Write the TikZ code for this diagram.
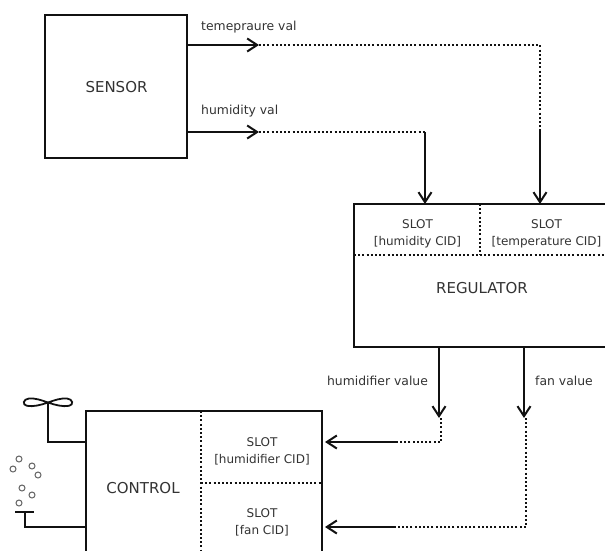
\documentclass[tikz,border=0pt]{standalone}
\usepackage{fontspec}
\setmainfont{DejaVu Sans}
\usetikzlibrary{arrows.meta,calc}
\definecolor{INK}{HTML}{111111}
\definecolor{TXT}{HTML}{333333}
\begin{document}
\begin{tikzpicture}[x=1pt,y=-1pt]
\tikzset{blockbox/.style={draw=INK,line width=2pt,fill=white,inner sep=0pt,outer sep=0pt,anchor=north west},
 lbl/.style={text=TXT,font=\fontsize{12}{17}\selectfont,inner sep=0pt,align=center},
 flowlbl/.style={text=TXT,font=\fontsize{12.4}{17}\selectfont,inner sep=0pt},
 biglbl/.style={text=TXT,font=\fontsize{15}{17}\selectfont,inner sep=0pt},
 flow/.style={-{Straight Barb[length=10pt,width=13pt,line width=2pt]},line width=2pt,INK},
 wire/.style={line width=2pt,INK},
 dots/.style={line width=2pt,INK,dash pattern=on 2pt off 2.2pt},
 bubble/.style={circle,draw=INK!65,line width=1pt,minimum size=6pt,inner sep=0pt}}
\useasboundingbox (0,0) rectangle (605,551);
\clip (0,0) rectangle (605,551);
% blocks
\node[blockbox,minimum width=142pt,minimum height=143pt] (sensor) at (45,15) {};
\node[blockbox,minimum width=252pt,minimum height=143pt] (regulator) at (354,204) {};
\node[blockbox,minimum width=236pt,minimum height=144pt] (control) at (86,411) {};
\node[biglbl] (sensortxt) at (116.5,87) {SENSOR};
\node[biglbl] (regulatortxt) at (482,288) {REGULATOR};
\node[biglbl] (controltxt) at (143,488) {CONTROL};
% slots
\node[lbl] (slothumidity) at (417.5,233.5) {SLOT\\{}[humidity CID]};
\node[lbl] (slottemp) at (546.5,233.5) {SLOT\\{}[temperature CID]};
\node[lbl] (slothumidifier) at (262,451.5) {SLOT\\{}[humidifier CID]};
\node[lbl] (slotfan) at (262,522.5) {SLOT\\{}[fan CID]};
\coordinate (regsplit) at (480,204);
\coordinate (regmid) at (354,255);
\coordinate (conmid) at (201,483);
\draw[dots] (regsplit) -- (regsplit |- regmid);
\draw[dots] (regmid) -- (regmid -| regulator.east);
\draw[dots] (control.north -| conmid) -- (control.south -| conmid);
\draw[dots] (conmid) -- (conmid -| control.east);
% sensor outputs
\coordinate (tempout) at (187,45);
\coordinate (tempmid) at (259,45);
\coordinate (tempcorner) at (540,45);
\coordinate (tempdrop) at (540,131);
\coordinate (humout) at (187,132);
\coordinate (hummid) at (259,132);
\coordinate (humdrop) at (425,132);
\draw[flow] (tempout) -- (tempmid);
\draw[dots] (tempmid) -- (tempcorner) -- (tempdrop);
\draw[flow] (tempdrop) -- (tempdrop |- regulator.north);
\draw[flow] (humout) -- (hummid);
\draw[dots] (hummid) -- (humdrop);
\draw[flow] (humdrop) -- (humdrop |- regulator.north);
\node[flowlbl,anchor=west] (templbl) at (201,27) {temepraure val};
\node[flowlbl,anchor=west] (humlbl) at (201,111) {humidity val};
% regulator outputs
\coordinate (hvstart) at (439,347);
\coordinate (hvend) at (439,418);
\coordinate (hvcorner) at (441,442);
\coordinate (hvin) at (396,442);
\coordinate (fvstart) at (524,347);
\coordinate (fvend) at (524,418);
\coordinate (fvcorner) at (526,527);
\coordinate (fvin) at (395,527);
\draw[flow] (hvstart) -- (hvend);
\draw[dots] (hvend -| hvcorner) -- (hvcorner) -- (hvin);
\draw[flow,shorten >=3pt] (hvin) -- (hvin -| control.east);
\draw[flow] (fvstart) -- (fvend);
\draw[dots] (fvend -| fvcorner) -- (fvcorner) -- (fvin);
\draw[flow,shorten >=3pt] (fvin) -- (fvin -| control.east);
\node[flowlbl] (hvlbl) at (377.5,381) {humidifier value};
\node[flowlbl] (fvlbl) at (564,381) {fan value};
% fan and nozzle
\coordinate (fanhub) at (48,402.5);
\coordinate (fanin) at (86,442);
\coordinate (nozzle) at (25,512);
\coordinate (nozzlein) at (86,527);
\draw[wire] (fanhub) -- (fanhub |- fanin) -- (fanin);
\draw[line width=1.8pt,INK] (fanhub) .. controls (41,400) and (35,398) .. (29,398.5) .. controls (23,399) and (22,405) .. (27,405.8) .. controls (33,407) and (41,405) .. (fanhub)
 .. controls (55,400) and (61,398) .. (67,398.5) .. controls (73,399) and (74,405) .. (69,405.8) .. controls (63,407) and (55,405) .. (fanhub);
\draw[wire] (15,512) -- (34,512);
\draw[wire] (nozzle) -- (nozzle |- nozzlein) -- (nozzlein);
\foreach \bx/\by in {19/459,13/469,32/466,38/475,22/488,32/495,19/503}{
 \node[bubble] at (\bx,\by) {};
}
\end{tikzpicture}
\end{document}
